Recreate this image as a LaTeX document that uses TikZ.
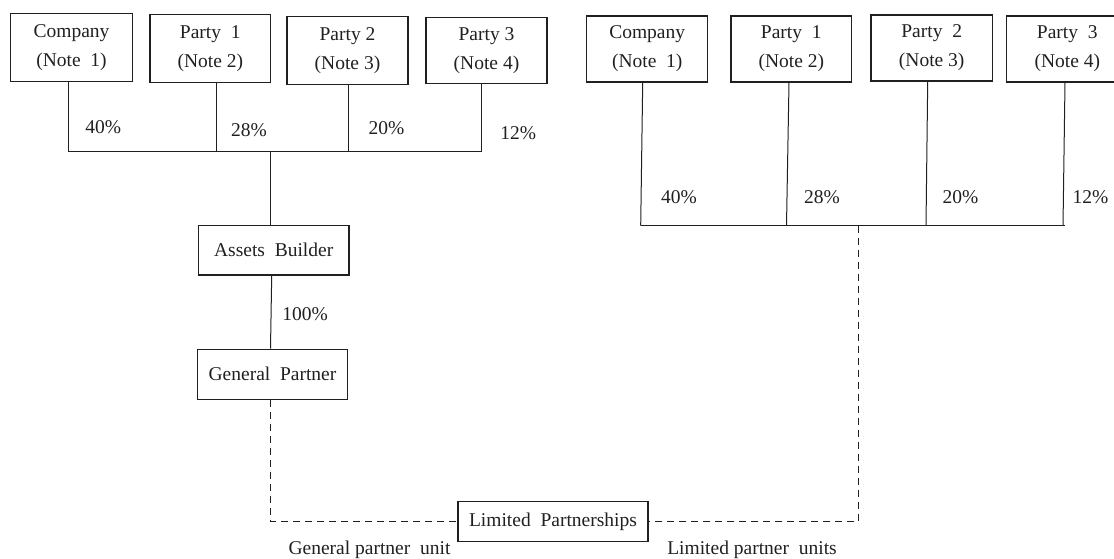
\documentclass[tikz,border=0pt]{standalone}
\usepackage{fontspec}
\setmainfont{Liberation Serif}
\definecolor{ink}{HTML}{231F20}
\newcommand\fs{\fontsize{19.5}{29}\selectfont}
\begin{document}
\begin{tikzpicture}[x=1pt,y=-1pt,
  ent/.style={draw=ink, text=ink, line width=1.2pt, align=center, inner sep=0pt, font=\fs},
  pct/.style={text=ink, inner sep=0pt, font=\fs},
  link/.style={draw=ink, line width=1pt},
  dline/.style={draw=ink, line width=1pt, dash pattern=on 7pt off 5pt}]
\useasboundingbox (0,0) rectangle (1114,558);
% ---------- left group ----------
\node[ent, minimum width=121.6pt, minimum height=68pt] (lc)  at (71.5,47.5)  {Company\\(Note~~1)};
\node[ent, minimum width=120.7pt, minimum height=68pt] (lp1) at (210.3,48.5) {Party~~1\\(Note 2)};
\node[ent, minimum width=121pt,   minimum height=68pt] (lp2) at (347.5,50.5) {Party 2\\(Note 3)};
\node[ent, minimum width=121pt,   minimum height=66pt] (lp3) at (486.5,50.5) {Party 3\\(Note 4)};
\coordinate (l1) at (68.3,151.7);
\coordinate (l2) at (216.7,151.7);
\coordinate (l3) at (348.3,151.7);
\coordinate (l4) at (481.7,151.7);
\coordinate (lm) at (270.7,151.7);
\draw[link] (lc.south -| l1) -- (l1);
\draw[link] (lp1.south -| l2) -- (l2);
\draw[link] (lp2.south -| l3) -- (l3);
\draw[link] (lp3.south -| l4) -- (l4);
\draw[link] (l1) -- (l4);
\node[pct] (t40) at (103.3,127) {40\%};
\node[pct] (t28) at (249,130) {28\%};
\node[pct] (t20) at (386.5,128) {20\%};
\node[pct] (t12) at (518.3,133) {12\%};
\node[ent, minimum width=150.7pt, minimum height=49.3pt] (ab) at (273.7,250.3) {Assets~~Builder};
\node[ent, minimum width=150.4pt, minimum height=50pt] (gp) at (272.5,374.3) {General~~Partner};
\draw[link] (lm) -- (ab.north -| lm);
\draw[link] ([xshift=-2pt]ab.south) -- ([xshift=-2pt]gp.north);
\node[pct] (t100) at (305,314.3) {100\%};
% ---------- right group ----------
\node[ent, minimum width=121pt,   minimum height=66pt] (rc)  at (647.2,49)  {Company\\(Note~~1)};
\node[ent, minimum width=120.7pt, minimum height=66pt] (rp1) at (791.3,49)  {Party~~1\\(Note 2)};
\node[ent, minimum width=121.3pt, minimum height=66pt] (rp2) at (931.7,48)  {Party~~2\\(Note 3)};
\node[ent, minimum width=121.3pt, minimum height=66pt] (rp3) at (1067.3,49) {Party~~3\\(Note 4)};
\coordinate (r1) at (640.7,225.7);
\coordinate (r2) at (786.5,225.7);
\coordinate (r3) at (926,225.7);
\coordinate (r4) at (1063,225.7);
\coordinate (rm) at (858.3,225.7);
\draw[link] ([xshift=2pt]rc.south -| r1) -- (r1);
\draw[link] ([xshift=2.5pt]rp1.south -| r2) -- (r2);
\draw[link] ([xshift=1.7pt]rp2.south -| r3) -- (r3);
\draw[link] ([xshift=2pt]rp3.south -| r4) -- (r4);
\draw[link] (r1) -- ([xshift=2pt]r4);
\node[pct] (u40) at (679,197) {40\%};
\node[pct] (u28) at (822,197) {28\%};
\node[pct] (u20) at (960.5,197) {20\%};
\node[pct] (u12) at (1090.5,197) {12\%};
% ---------- bottom ----------
\node[ent, minimum width=190pt, minimum height=40pt] (lp) at (553,521.5) {Limited~~Partnerships};
\draw[dline] ([xshift=-1.8pt]gp.south) |- (lp.west);
\draw[dline] (rm) |- (lp.east);
\node[pct, anchor=base] (gpu) at (369.5,554) {General partner~~unit};
\node[pct, anchor=base] (lpu) at (752,554) {Limited partner~~units};
\end{tikzpicture}
\end{document}
